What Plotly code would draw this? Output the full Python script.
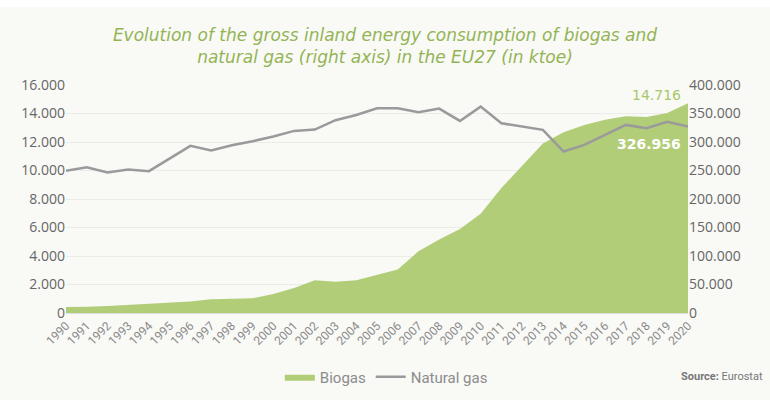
import plotly.graph_objects as go

YEARS = list(range(1990, 2021))

# ktoe
BIOGAS = [420, 430, 500, 580, 620, 700, 800, 960, 1000, 1030,
          1330, 1750, 2300, 2200, 2300, 2700, 3050, 4330, 5150, 5900,
          6970, 8770, 10340, 11900, 12680, 13200, 13570, 13800, 13750, 14040,
          14716]
NATURAL_GAS = [249400, 255800, 246500, 251800, 248800, 270400, 293200, 285000, 294400, 301400,
               309600, 319500, 321800, 338200, 347500, 359200, 359200, 352200, 358600, 337000,
               362100, 332900, 327100, 321300, 283300, 295000, 312500, 330000, 324200, 335300,
               326956]

LEFT_TICKS = list(range(0, 16001, 2000))
RIGHT_TICKS = list(range(0, 400001, 50000))

GREEN = "#b2cd78"
TITLE_GREEN = "#93b455"
GREY_LINE = "#9a9a9c"
BG = "#f9f9f6"

fig = go.Figure()

fig.add_trace(go.Scatter(
    x=YEARS, y=BIOGAS, name="Biogas",
    mode="lines", line=dict(color=GREEN, width=0),
    fill="tozeroy", fillcolor=GREEN,
))
fig.add_trace(go.Scatter(
    x=YEARS, y=NATURAL_GAS, name="Natural gas", yaxis="y2",
    mode="lines", line=dict(color=GREY_LINE, width=2.5),
))

# end labels
fig.add_annotation(x=YEARS[-1], y=BIOGAS[-1], text="14.716", showarrow=False,
                   xanchor="right", yanchor="bottom", xshift=-5, yshift=-2,
                   font=dict(color="#a8c868", size=14, family="DejaVu Sans"))
fig.add_annotation(x=YEARS[-1], y=NATURAL_GAS[-1], yref="y2", text="<b>326.956</b>",
                   showarrow=False, xanchor="right", yanchor="top", xshift=-5, yshift=-7,
                   font=dict(color="white", size=14, family="DejaVu Sans"))

fig.add_annotation(xref="paper", yref="paper", x=1.124, y=-0.28, text="<b>Source:</b> Eurostat",
                   showarrow=False, xanchor="right", yanchor="middle",
                   font=dict(color="#777777", size=11, family="Roboto"))

fig.update_layout(
    title=dict(
        text="<i>Evolution of the gross inland energy consumption of biogas and<br>"
             "natural gas (right axis) in the EU27 (in ktoe)</i>",
        x=0.5, xanchor="center", y=0.897, yanchor="middle",
        font=dict(color=TITLE_GREEN, size=17, family="DejaVu Sans"),
    ),
    width=770, height=400,
    margin=dict(l=66, r=82, t=85, b=87),
    paper_bgcolor=BG, plot_bgcolor=BG,
    separators=",.",
    showlegend=True,
    legend=dict(orientation="h", x=0.515, xanchor="center",
                yref="container", y=0.0575, yanchor="middle",
                font=dict(color="#8c8c8c", size=15, family="Roboto"),
                bgcolor="rgba(0,0,0,0)"),
    xaxis=dict(range=[1990, 2020], tickvals=YEARS, ticktext=[str(y) for y in YEARS],
               tickangle=-45, showgrid=False, zeroline=False, automargin=False,
               showline=True, linecolor="#dddddd",
               tickfont=dict(color="#8a8a8a", size=12, family="Roboto")),
    yaxis=dict(range=[0, 16000], tickvals=LEFT_TICKS, tickformat=",d",
               gridcolor="#ebebe8", zeroline=False, automargin=False,
               tickfont=dict(color="#666666", size=14, family="Open Sans")),
    yaxis2=dict(range=[0, 400000], tickvals=RIGHT_TICKS, tickformat=",d",
                overlaying="y", side="right", showgrid=False, zeroline=False,
                automargin=False,
                tickfont=dict(color="#666666", size=14, family="Open Sans")),
    shapes=[dict(type="rect", xref="paper", yref="paper", x0=-0.2, x1=1.2,
                 y0=1.342, y1=1.4, fillcolor="white", line=dict(width=0), layer="below")],
)

fig.write_html("out.html", config={"displayModeBar": False},
               post_script="document.body.style.margin='0';")
